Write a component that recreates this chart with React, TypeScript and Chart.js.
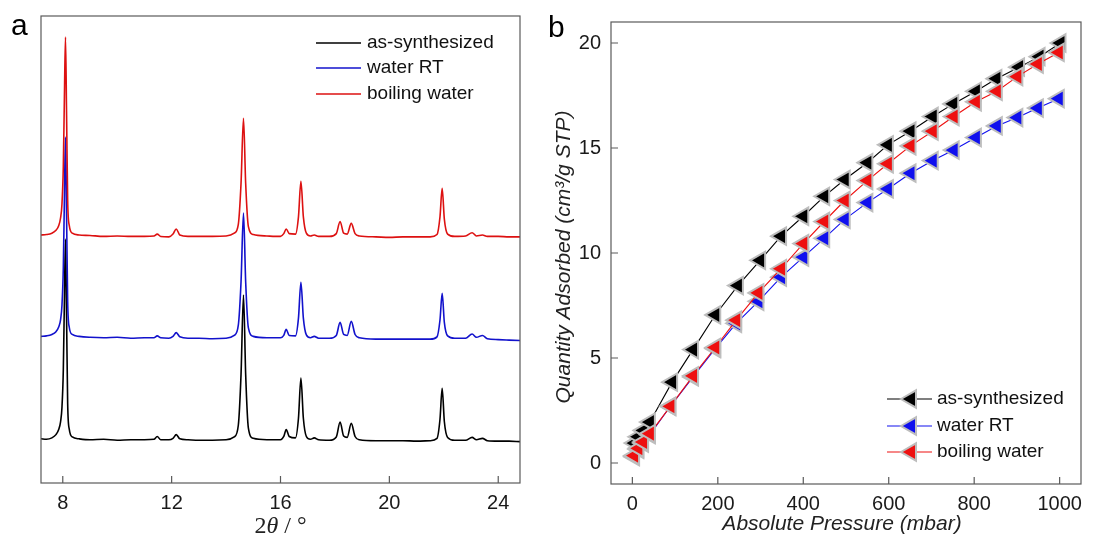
import React, { useEffect, useRef } from 'react';
import { Chart, registerables } from 'chart.js';
Chart.register(...registerables);

// ---------- Panel a: PXRD ----------
const twoTheta = [7.2, 7.4, 7.6, 7.75, 7.85, 7.92, 7.97, 8.02, 8.06, 8.1, 8.14, 8.18, 8.24, 8.35, 8.6, 9.0, 9.5, 10.0, 10.5, 11.0, 11.35, 11.47, 11.6, 11.9, 12.05, 12.17, 12.3, 12.6, 13.0, 13.5, 14.0, 14.3, 14.45, 14.55, 14.64, 14.72, 14.82, 15.0, 15.5, 16.0, 16.12, 16.21, 16.32, 16.55, 16.66, 16.75, 16.84, 16.95, 17.1, 17.24, 17.4, 17.8, 18.05, 18.19, 18.32, 18.45, 18.6, 18.74, 18.9, 19.5, 20.0, 20.5, 21.0, 21.5, 21.75, 21.86, 21.94, 22.02, 22.14, 22.4, 22.8, 23.04, 23.2, 23.42, 23.6, 24.0, 24.4, 24.8];

const xrdAsSynthesized = [
  0.2, 0.1, 0.4, 1.1, 2.2, 3.9, 6.9, 15, 30, 43,
  26, 7.7, 2.2, 0.6, 0.2, 0.0, 0.1, -0.1, 0.0, 0.0,
  0.1, 0.7, 0.0, 0.0, 0.3, 1.1, 0.2, 0.0, -0.1, -0.1,
  0.0, 0.6, 3.1, 14, 31, 14, 2.5, 0.3, 0.0, 0.0,
  0.7, 2.2, 0.7, 0.4, 4.6, 13.2, 4.6, 0.7, 0.1, 0.4,
  0.0, -0.1, 0.6, 3.8, 0.8, 0.5, 3.5, 0.7, 0.0, -0.2,
  -0.2, -0.2, -0.3, -0.2, 0.3, 4.4, 11, 3.9, 0.5, -0.1,
  -0.1, 0.5, 0.0, 0.3, -0.2, -0.3, -0.3, -0.4];

const xrdWaterRT = [
  0.3, 0.4, 0.7, 1.3, 2.3, 3.9, 6.9, 15, 30, 43,
  26, 7.7, 2.2, 0.7, 0.3, 0.1, 0.0, 0.1, -0.1, 0.0,
  0.0, 0.4, 0.0, -0.1, 0.3, 1.1, 0.2, -0.1, -0.1, -0.2,
  -0.1, 0.5, 2.7, 12, 26.7, 12, 2.1, 0.3, 0.0, 0.0,
  0.5, 1.8, 0.5, 0.4, 4.2, 11.9, 4.2, 0.6, 0.0, 0.3,
  -0.1, -0.1, 0.5, 3.3, 0.7, 0.5, 3.5, 0.7, 0.0, -0.3,
  -0.3, -0.3, -0.3, -0.3, 0.2, 3.8, 9.5, 3.3, 0.4, -0.1,
  -0.1, 0.8, 0.1, 0.5, -0.2, -0.4, -0.5, -0.6];

const xrdBoilingWater = [
  0.2, 0.3, 0.6, 1.2, 2.2, 3.9, 6.8, 14.8, 29.8, 42.6,
  25.8, 7.6, 2.2, 0.6, 0.2, 0.1, -0.1, 0.0, -0.1, -0.1,
  0.0, 0.4, -0.1, -0.2, 0.4, 1.5, 0.2, -0.1, -0.1, -0.1,
  0.0, 0.6, 2.5, 11.3, 25.2, 11.3, 2.0, 0.3, 0.0, -0.1,
  0.5, 1.5, 0.5, 0.4, 4.1, 11.7, 4.1, 0.6, 0.0, 0.2,
  -0.1, -0.1, 0.5, 3.1, 0.6, 0.4, 2.7, 0.5, 0.0, -0.2,
  -0.3, -0.2, -0.2, -0.2, 0.3, 4.1, 10.2, 3.6, 0.4, -0.1,
  0.0, 0.7, 0.0, 0.2, -0.1, -0.1, -0.2, -0.2];

const xrdOffsets = [9.26, 31.1, 52.9];
const xrdTicks = [8, 12, 16, 20, 24];

// ---------- Panel b: CO2 isotherms ----------
const pressureAsSynthesized = [5, 14, 26, 41, 93, 142, 194, 247, 299, 348, 400, 449, 497, 550, 598, 651, 703, 751, 804, 852, 905, 953, 1002];
const quantityAsSynthesized = [0.95, 1.25, 1.55, 1.95, 3.85, 5.4, 7.05, 8.45, 9.65, 10.8, 11.75, 12.7, 13.5, 14.3, 15.15, 15.8, 16.5, 17.1, 17.7, 18.3, 18.85, 19.35, 20.0];
const pressureWaterRT = [4, 14, 25, 41, 89, 142, 194, 243, 295, 348, 400, 449, 497, 550, 598, 651, 703, 752, 804, 853, 901, 949, 998];
const quantityWaterRT = [0.3, 0.65, 0.95, 1.35, 2.7, 4.1, 5.45, 6.65, 7.7, 8.85, 9.8, 10.7, 11.6, 12.4, 13.05, 13.8, 14.4, 14.9, 15.5, 16.05, 16.45, 16.9, 17.35];
const pressureBoilingWater = [4, 14, 25, 41, 89, 142, 194, 243, 295, 348, 400, 449, 497, 550, 598, 651, 703, 752, 804, 853, 901, 949, 998];
const quantityBoilingWater = [0.35, 0.7, 1.0, 1.4, 2.7, 4.15, 5.5, 6.8, 8.1, 9.25, 10.45, 11.5, 12.5, 13.45, 14.25, 15.1, 15.8, 16.5, 17.2, 17.7, 18.4, 19.0, 19.55];
const pressureTicks = [0, 200, 400, 600, 800, 1000];
const quantityTicks = [0, 5, 10, 15, 20];

const seriesNames = ['as-synthesized', 'water RT', 'boiling water'];
const colorsA = ['#000000', '#1212cc', '#dd1111'];
const colorsB = ['#000000', '#1010ee', '#ee1010'];

const SANS = '"Liberation Sans", Arial, sans-serif';
const SERIF = '"Liberation Serif", "Times New Roman", serif';

function drawLeftTriangle(ctx: CanvasRenderingContext2D, x: number, y: number, r: number, fill: string) {
  ctx.beginPath();
  ctx.moveTo(x - r, y);
  ctx.lineTo(x + r / 2, y - (r * Math.sqrt(3)) / 2);
  ctx.lineTo(x + r / 2, y + (r * Math.sqrt(3)) / 2);
  ctx.closePath();
  ctx.fillStyle = fill;
  ctx.fill();
  ctx.lineWidth = 2;
  ctx.strokeStyle = '#bdbdbd';
  ctx.stroke();
}

const frameA = {
  id: 'frameA',
  afterDraw(chart: any) {
    const { ctx, chartArea: ca, scales } = chart;
    ctx.save();
    ctx.strokeStyle = '#5a5a5a';
    ctx.lineWidth = 1.2;
    ctx.strokeRect(ca.left, ca.top, ca.right - ca.left, ca.bottom - ca.top);
    ctx.beginPath();
    scales.x.ticks.forEach((t: any) => {
      const px = scales.x.getPixelForValue(t.value);
      ctx.moveTo(px, ca.bottom);
      ctx.lineTo(px, ca.bottom - 7);
    });
    ctx.stroke();
    // legend
    const rows = [27, 52, 78];
    ctx.font = `19px ${SANS}`;
    ctx.textBaseline = 'middle';
    ctx.textAlign = 'left';
    seriesNames.forEach((n, i) => {
      const y = ca.top + rows[i];
      ctx.strokeStyle = colorsA[i];
      ctx.lineWidth = 1.5;
      ctx.beginPath();
      ctx.moveTo(ca.left + 275, y);
      ctx.lineTo(ca.left + 320, y);
      ctx.stroke();
      ctx.fillStyle = '#111';
      ctx.fillText(n, ca.left + 326, y);
    });
    // x title: 2θ / °
    const parts: [string, string][] = [['2', `24px ${SERIF}`], ['θ', `italic 24px ${SERIF}`], [' / °', `24px ${SERIF}`]];
    let total = 0;
    parts.forEach(([s, f]) => { ctx.font = f; total += ctx.measureText(s).width; });
    let x = (ca.left + ca.right) / 2 - total / 2;
    ctx.textBaseline = 'alphabetic';
    ctx.fillStyle = '#222';
    parts.forEach(([s, f]) => { ctx.font = f; ctx.fillText(s, x, 533); x += ctx.measureText(s).width; });
    // panel label
    ctx.font = `30px ${SANS}`;
    ctx.fillStyle = '#000';
    ctx.fillText('a', 11, 35);
    ctx.restore();
  },
};

const frameB = {
  id: 'frameB',
  afterDraw(chart: any) {
    const { ctx, chartArea: ca, scales } = chart;
    ctx.save();
    ctx.strokeStyle = '#5a5a5a';
    ctx.lineWidth = 1.2;
    ctx.strokeRect(ca.left, ca.top, ca.right - ca.left, ca.bottom - ca.top);
    ctx.beginPath();
    scales.x.ticks.forEach((t: any) => {
      const px = scales.x.getPixelForValue(t.value);
      ctx.moveTo(px, ca.bottom);
      ctx.lineTo(px, ca.bottom - 7);
    });
    scales.y.ticks.forEach((t: any) => {
      const py = scales.y.getPixelForValue(t.value);
      ctx.moveTo(ca.left, py);
      ctx.lineTo(ca.left + 7, py);
    });
    ctx.stroke();
    // legend
    const rows = [377, 404, 430];
    ctx.font = `19px ${SANS}`;
    ctx.textBaseline = 'middle';
    ctx.textAlign = 'left';
    seriesNames.forEach((n, i) => {
      const y = ca.top + rows[i];
      ctx.strokeStyle = colorsB[i];
      ctx.lineWidth = 1.2;
      ctx.beginPath();
      ctx.moveTo(ca.left + 276, y);
      ctx.lineTo(ca.left + 321, y);
      ctx.stroke();
      drawLeftTriangle(ctx, ca.left + 300, y, 10, colorsB[i]);
      ctx.fillStyle = '#111';
      ctx.fillText(n, ca.left + 326, y);
    });
    // axis titles
    ctx.fillStyle = '#222';
    ctx.font = `italic 21px ${SANS}`;
    ctx.textAlign = 'center';
    ctx.textBaseline = 'middle';
    ctx.fillText('Absolute Pressure (mbar)', 296, 524);
    ctx.save();
    ctx.translate(18, 257);
    ctx.rotate(-Math.PI / 2);
    ctx.fillText('Quantity Adsorbed (cm³/g STP)', 0, 0);
    ctx.restore();
    // panel label
    ctx.font = `30px ${SANS}`;
    ctx.fillStyle = '#000';
    ctx.textAlign = 'left';
    ctx.textBaseline = 'alphabetic';
    ctx.fillText('b', 2, 37);
    ctx.restore();
  },
};

const tickFont = { family: SANS, size: 20 };
const plainLabel = (v: any) => String(v);

function configA(): any {
  const series = [xrdAsSynthesized, xrdWaterRT, xrdBoilingWater];
  return {
    type: 'line',
    data: {
      datasets: series.map((vals, i) => ({
        label: seriesNames[i],
        data: twoTheta.map((x, j) => ({ x, y: vals[j] + xrdOffsets[i] })),
        borderColor: colorsA[i],
        borderWidth: 1.6,
        pointRadius: 0,
        cubicInterpolationMode: 'monotone',
        order: 2 - i,
      })),
    },
    options: {
      responsive: false,
      animation: false,
      events: [],
      layout: { padding: { left: 41, top: 16, right: 26, bottom: 0 } },
      plugins: { legend: { display: false }, tooltip: { enabled: false } },
      scales: {
        x: {
          type: 'linear',
          min: 7.2,
          max: 24.8,
          afterBuildTicks: (s: any) => { s.ticks = xrdTicks.map((v) => ({ value: v })); },
          afterFit: (s: any) => { s.height = 56; },
          grid: { display: false, drawTicks: false },
          border: { display: false },
          ticks: { font: tickFont, color: '#1a1a1a', padding: 8, maxRotation: 0, callback: plainLabel },
        },
        y: { display: false, min: 0, max: 100 },
      },
    },
    plugins: [frameA],
  };
}

function configB(): any {
  const ps = [pressureAsSynthesized, pressureWaterRT, pressureBoilingWater];
  const qs = [quantityAsSynthesized, quantityWaterRT, quantityBoilingWater];
  return {
    type: 'line',
    data: {
      datasets: ps.map((p, i) => ({
        label: seriesNames[i],
        data: p.map((x, j) => ({ x, y: qs[i][j] })),
        borderColor: colorsB[i],
        backgroundColor: colorsB[i],
        borderWidth: 1.1,
        pointStyle: 'triangle',
        pointRotation: -90,
        pointRadius: 10,
        pointBackgroundColor: colorsB[i],
        pointBorderColor: '#bdbdbd',
        pointBorderWidth: 2,
        tension: 0,
        order: 2 - i,
      })),
    },
    options: {
      responsive: false,
      animation: false,
      events: [],
      layout: { padding: { left: 0, top: 16, right: 3, bottom: 0 } },
      plugins: { legend: { display: false }, tooltip: { enabled: false } },
      scales: {
        x: {
          type: 'linear',
          min: -50,
          max: 1050,
          afterBuildTicks: (s: any) => { s.ticks = pressureTicks.map((v) => ({ value: v })); },
          afterFit: (s: any) => { s.height = 55; },
          grid: { display: false, drawTicks: false },
          border: { display: false },
          ticks: { font: tickFont, color: '#1a1a1a', padding: 8, maxRotation: 0, callback: plainLabel },
        },
        y: {
          type: 'linear',
          min: -1,
          max: 21,
          afterBuildTicks: (s: any) => { s.ticks = quantityTicks.map((v) => ({ value: v })); },
          afterFit: (s: any) => { s.width = 65; },
          grid: { display: false, drawTicks: false },
          border: { display: false },
          ticks: { font: tickFont, color: '#1a1a1a', padding: 10, callback: plainLabel },
        },
      },
    },
    plugins: [frameB],
  };
}

export default function App() {
  const refA = useRef<HTMLCanvasElement>(null);
  const refB = useRef<HTMLCanvasElement>(null);
  useEffect(() => {
    const a = new Chart(refA.current as HTMLCanvasElement, configA());
    const b = new Chart(refB.current as HTMLCanvasElement, configB());
    return () => {
      a.destroy();
      b.destroy();
    };
  }, []);
  return (
    <div style={{ position: 'fixed', left: 0, top: 0, width: 1093, height: 539, background: '#fff' }}>
      <canvas ref={refA} width={546} height={539} style={{ position: 'absolute', left: 0, top: 0 }} />
      <canvas ref={refB} width={547} height={539} style={{ position: 'absolute', left: 546, top: 0 }} />
    </div>
  );
}
